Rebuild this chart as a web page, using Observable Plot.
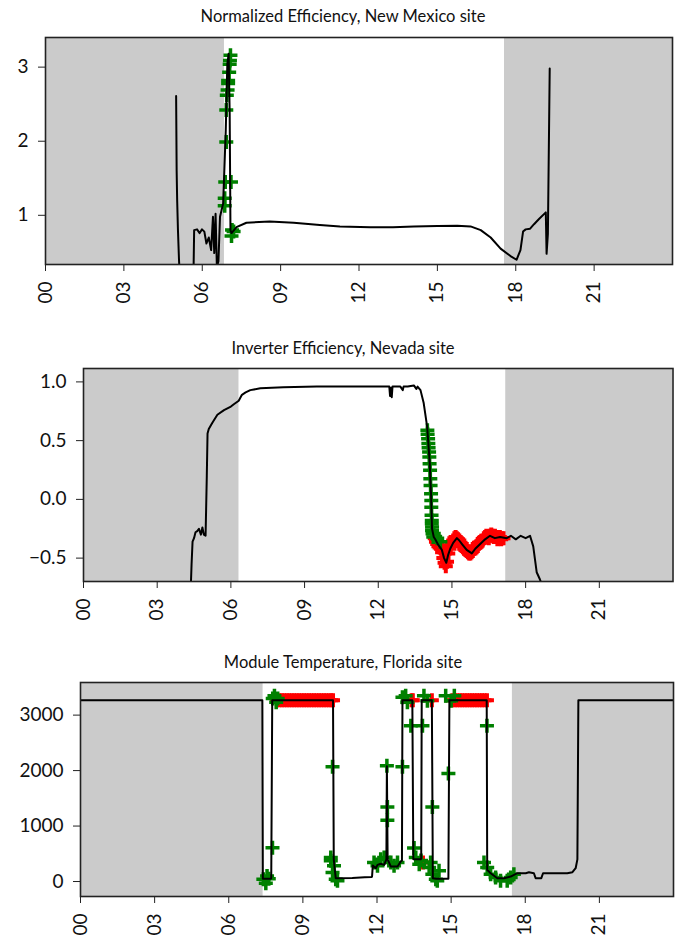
<!DOCTYPE html>
<html><head><meta charset="utf-8">
<script src="https://cdn.jsdelivr.net/npm/d3@7"></script>
<script src="https://cdn.jsdelivr.net/npm/@observablehq/plot@0.6"></script>
<style>
body{margin:0;background:#fff;}
#wrap{position:relative;width:683px;height:937px;overflow:hidden;background:#fff;font-family:Lato,sans-serif;}
.title{position:absolute;left:0;width:686px;text-align:center;font-size:16.5px;color:#111;line-height:18px;}
.panel{position:absolute;left:0;}
</style></head>
<body><div id="wrap"></div>
<script>
// ---- shared ----
const hourTicks = [0, 3, 6, 9, 12, 15, 18, 21];
const titles = ["Normalized Efficiency, New Mexico site", "Inverter Efficiency, Nevada site", "Module Temperature, Florida site"];

// ---- Panel 1: Normalized Efficiency, New Mexico ----
const nmNightStart = [0, 17.57];
const nmNightEnd = [6.85, 24];
const nmHours = [5.00, 5.02, 5.04, 5.07, 5.11, 5.15, 5.62, 5.66, 5.69, 5.80, 5.90, 5.99, 6.08, 6.16, 6.25, 6.34, 6.41, 6.46, 6.51, 6.56, 6.62, 6.68, 6.74, 6.80, 6.90, 6.96, 7.01, 7.05, 7.08, 7.12, 7.31, 7.69, 8.58, 9.5, 10.5, 11.27, 12.43, 13.3, 14.1, 15.0, 15.76, 16.27, 16.66, 17.04, 17.42, 17.80, 18.03, 18.18, 18.28, 18.38, 18.55, 18.70, 18.89, 19.15, 19.18, 19.23, 19.30];
const nmEff = [2.61, 1.60, 1.20, 0.80, 0.40, 0.10, 0.10, 0.10, 0.80, 0.81, 0.76, 0.81, 0.78, 0.62, 0.70, 0.53, 0.98, 0.49, 1.02, 0.30, 0.38, 0.98, 1.07, 1.16, 2.15, 3.04, 3.18, 2.37, 0.80, 0.76, 0.84, 0.90, 0.915, 0.90, 0.87, 0.85, 0.84, 0.84, 0.85, 0.855, 0.86, 0.85, 0.80, 0.70, 0.55, 0.45, 0.40, 0.53, 0.78, 0.81, 0.82, 0.88, 0.95, 1.04, 0.48, 0.75, 2.98];
const nmGreenHours = [7.08, 7.06, 7.05, 7.03, 6.99, 6.99, 6.97, 6.94, 6.92, 6.92, 6.88, 7.10, 6.86, 6.86, 7.14, 7.20, 7.12];
const nmGreenVals = [3.16, 3.09, 3.04, 2.93, 2.82, 2.78, 2.69, 2.62, 2.42, 1.99, 1.45, 1.45, 1.23, 1.13, 0.80, 0.78, 0.72];
const nmYTicks = [1, 2, 3];

// ---- Panel 2: Inverter Efficiency, Nevada ----
const nvNightStart = [0, 17.19];
const nvNightEnd = [6.33, 24];
const nvHours = [4.36, 4.40, 4.44, 4.50, 4.56, 4.63, 4.70, 4.78, 4.84, 4.90, 4.97, 5.02, 5.05, 5.10, 5.24, 5.45, 5.72, 6.00, 6.12, 6.32, 6.45, 6.60, 6.79, 7.20, 8.14, 9.5, 11.0, 12.2, 12.45, 12.48, 12.52, 12.55, 12.58, 12.9, 13.0, 13.03, 13.2, 13.45, 13.55, 13.60, 13.72, 13.85, 13.99, 14.09, 14.15, 14.19, 14.26, 14.32, 14.45, 14.59, 14.68, 14.77, 14.85, 14.93, 15.05, 15.2, 15.3, 15.41, 15.6, 15.81, 15.95, 16.15, 16.35, 16.55, 16.75, 16.96, 17.23, 17.4, 17.6, 17.8, 18.0, 18.18, 18.31, 18.45, 18.58, 18.70];
const nvEff = [-0.80, -0.55, -0.36, -0.33, -0.28, -0.27, -0.25, -0.30, -0.24, -0.30, -0.31, 0.20, 0.56, 0.60, 0.65, 0.72, 0.76, 0.79, 0.81, 0.84, 0.89, 0.91, 0.93, 0.945, 0.955, 0.96, 0.96, 0.96, 0.96, 0.88, 0.95, 0.87, 0.96, 0.96, 0.93, 0.96, 0.96, 0.97, 0.94, 0.96, 0.93, 0.82, 0.62, 0.33, 0.04, -0.25, -0.32, -0.34, -0.39, -0.43, -0.50, -0.54, -0.47, -0.42, -0.37, -0.33, -0.35, -0.38, -0.43, -0.46, -0.42, -0.38, -0.34, -0.31, -0.33, -0.32, -0.33, -0.31, -0.34, -0.31, -0.33, -0.31, -0.40, -0.62, -0.68, -0.75];
const nvGreenHours = [14.00, 14.01, 14.03, 14.04, 14.05, 14.07, 14.08, 14.09, 14.11, 14.12, 14.13, 14.15, 14.16, 14.16, 14.17, 14.18, 14.18, 14.19, 14.19, 14.21, 14.24, 14.26, 14.40, 14.53];
const nvGreenVals = [0.588, 0.554, 0.517, 0.475, 0.44, 0.403, 0.36, 0.304, 0.247, 0.176, 0.119, 0.048, -0.009, -0.066, -0.136, -0.179, -0.208, -0.236, -0.264, -0.293, -0.321, -0.29, -0.33, -0.36];
const nvRedHours = [14.30, 14.35, 14.40, 14.45, 14.50, 14.55, 14.60, 14.65, 14.70, 14.75, 14.80, 14.85, 14.90, 14.95, 15.00, 15.05, 15.10, 15.15, 15.20, 15.25, 15.30, 15.35, 15.40, 15.45, 15.50, 15.55, 15.60, 15.65, 15.70, 15.75, 15.80, 15.85, 15.90, 15.95, 16.00, 16.05, 16.10, 16.15, 16.20, 16.25, 16.30, 16.35, 16.40, 16.45, 16.50, 16.55, 16.60, 16.65, 16.70, 16.75, 16.80, 16.85, 16.90, 16.95, 17.00, 17.05, 17.10];
const nvRedVals = [-0.33, -0.36, -0.38, -0.40, -0.41, -0.42, -0.45, -0.50, -0.54, -0.57, -0.53, -0.46, -0.42, -0.39, -0.37, -0.35, -0.33, -0.32, -0.33, -0.34, -0.35, -0.37, -0.38, -0.40, -0.42, -0.43, -0.44, -0.45, -0.46, -0.46, -0.45, -0.44, -0.42, -0.41, -0.40, -0.38, -0.37, -0.37, -0.36, -0.35, -0.33, -0.32, -0.31, -0.32, -0.33, -0.31, -0.30, -0.31, -0.32, -0.31, -0.32, -0.34, -0.33, -0.32, -0.34, -0.33, -0.33];
const nvYTicks = [-0.5, 0, 0.5, 1.0];

// ---- Panel 3: Module Temperature, Florida ----
const flNightStart = [0, 17.48];
const flNightEnd = [7.39, 24];
const flHours = [0, 7.36, 7.38, 7.70, 7.72, 7.76, 10.22, 10.25, 10.33, 11.0, 11.5, 11.78, 11.80, 11.83, 11.95, 12.02, 12.15, 12.29, 12.38, 12.40, 12.43, 12.45, 12.56, 12.83, 12.96, 13.01, 13.03, 13.43, 13.47, 13.77, 13.79, 13.81, 14.22, 14.26, 14.40, 14.89, 14.93, 16.44, 16.46, 16.60, 16.87, 17.14, 17.41, 17.68, 18.02, 18.15, 18.35, 18.42, 18.65, 18.72, 19.70, 19.91, 20.04, 20.11, 20.15, 24];
const flTemp = [3270, 3270, 50, 50, 60, 3270, 3270, 400, 60, 65, 75, 80, 90, 290, 240, 300, 320, 300, 400, 2080, 400, 380, 270, 270, 360, 380, 3270, 3270, 400, 400, 420, 3270, 3270, 60, 50, 50, 3270, 3270, 210, 150, 60, 60, 90, 150, 150, 168, 150, 60, 60, 150, 150, 168, 240, 400, 3270, 3270];
const flGreenHours = [7.40, 7.50, 7.55, 7.62, 7.77, 7.78, 7.85, 7.92, 7.98, 10.20, 10.13, 10.26, 10.20, 10.33, 10.40, 10.13, 11.88, 12.02, 12.15, 12.29, 12.40, 12.42, 12.42, 12.56, 12.69, 12.83, 13.03, 13.03, 13.16, 13.23, 13.37, 13.50, 13.57, 13.71, 13.78, 13.84, 13.90, 14.04, 14.24, 14.11, 14.24, 14.38, 14.44, 14.51, 14.17, 14.78, 15.00, 15.13, 14.89, 16.45, 16.33, 16.46, 16.60, 16.80, 17.00, 17.27, 17.41, 17.54];
const flGreenVals = [40, -30, 100, 50, 610, 3300, 3350, 3230, 3300, 2070, 373, 283, 163, 43, 14, 433, 343, 283, 403, 433, 2085, 1345, 1104, 343, 283, 343, 2067, 3320, 3350, 3230, 2810, 603, 433, 313, 380, 2810, 3350, 3260, 1345, 253, 133, 43, 13, 193, 343, 3350, 3260, 3350, 1946, 2810, 343, 253, 133, 73, 13, 13, 73, 133];
const flRedHours = [7.95, 8.05, 8.15, 8.25, 8.35, 8.45, 8.55, 8.65, 8.75, 8.85, 8.95, 9.05, 9.15, 9.25, 9.35, 9.45, 9.55, 9.65, 9.75, 9.85, 9.95, 10.05, 10.15, 10.22, 13.40, 13.45, 13.86, 14.22, 15.05, 15.15, 15.25, 15.35, 15.45, 15.55, 15.65, 15.75, 15.85, 15.95, 16.05, 16.15, 16.25, 16.35, 16.45];
const flRedVals = [3270, 3270, 3270, 3270, 3270, 3270, 3270, 3270, 3270, 3270, 3270, 3270, 3270, 3270, 3270, 3270, 3270, 3270, 3270, 3270, 3270, 3270, 3270, 3270, 3270, 3270, 343, 3270, 3270, 3270, 3270, 3270, 3270, 3270, 3270, 3270, 3270, 3270, 3270, 3270, 3270, 3270, 3270];
const flYTicks = [0, 1000, 2000, 3000];

// ---- helpers ----
const zip = (xs, ys) => xs.map((x, i) => ({x, y: ys[i]}));
const bands = (s, e) => s.map((v, i) => ({x1: v, x2: e[i]}));
const plusSymbol = {
  draw(ctx, size) {
    const r = Math.sqrt(size / Math.PI);
    ctx.moveTo(-r, 0); ctx.lineTo(r, 0);
    ctx.moveTo(0, -r); ctx.lineTo(0, r);
  }
};
const hourFmt = d => String(d).padStart(2, "0");

function panel(cfg) {
  const marks = [
    Plot.rect(bands(cfg.nightS, cfg.nightE), {x1: "x1", x2: "x2", fill: "#cbcbcb"}),
  ];
  if (cfg.red) marks.push(Plot.dot(cfg.red, {x: "x", y: "y", symbol: plusSymbol, r: 7, stroke: "#ff0000", strokeWidth: 4, fill: "none", clip: true}));
  if (cfg.green) marks.push(Plot.dot(cfg.green, {x: "x", y: "y", symbol: plusSymbol, r: 7, stroke: "#008000", strokeWidth: 3.5, fill: "none", clip: true}));
  marks.push(Plot.line(cfg.line, {x: "x", y: "y", stroke: "#000", strokeWidth: 2, clip: true}));
  marks.push(Plot.axisX({ticks: hourTicks, tickFormat: hourFmt, tickRotate: -90, tickSize: 7, tickPadding: 10, label: null, stroke: "#222", fill: "#111"}));
  marks.push(Plot.axisY({ticks: cfg.yTicks, tickFormat: cfg.yFmt, tickSize: 7, tickPadding: 10, label: null, stroke: "#222", fill: "#111"}));
  marks.push(Plot.frame({stroke: "#222", strokeWidth: 1.6}));
  return Plot.plot({
    width: 683, height: cfg.height,
    marginLeft: cfg.ml, marginRight: cfg.mr, marginTop: cfg.mt, marginBottom: cfg.mb,
    x: {domain: [0, 24]},
    y: {domain: cfg.yDomain},
    style: {fontFamily: "Lato, sans-serif", fontSize: "19px", background: "transparent", overflow: "visible"},
    marks
  });
}

const wrap = document.getElementById("wrap");
function place(el, top) { el.classList.add("panel"); el.style.top = top + "px"; wrap.appendChild(el); }
function addTitle(text, top) { const d = document.createElement("div"); d.className = "title"; d.style.top = top + "px"; d.textContent = text; wrap.appendChild(d); }

addTitle(titles[0], 7);
place(panel({
  line: zip(nmHours, nmEff), green: zip(nmGreenHours, nmGreenVals),
  nightS: nmNightStart, nightE: nmNightEnd,
  yDomain: [0.336, 3.40], yTicks: nmYTicks, yFmt: d3.format("d"),
  height: 281, ml: 45, mr: 11, mt: 9, mb: 45
}), 28);

addTitle(titles[1], 339);
place(panel({
  line: zip(nvHours, nvEff), green: zip(nvGreenHours, nvGreenVals), red: zip(nvRedHours, nvRedVals),
  nightS: nvNightStart, nightE: nvNightEnd,
  yDomain: [-0.699, 1.114], yTicks: nvYTicks, yFmt: d3.format(".1f"),
  height: 266, ml: 83, mr: 10.5, mt: 8, mb: 45
}), 360);

addTitle(titles[2], 653);
place(panel({
  line: zip(flHours, flTemp), green: zip(flGreenHours, flGreenVals), red: zip(flRedHours, flRedVals),
  nightS: flNightStart, nightE: flNightEnd,
  yDomain: [-270, 3588], yTicks: flYTicks, yFmt: d3.format("d"),
  height: 265, ml: 80, mr: 10, mt: 10, mb: 41
}), 672);
</script>
</body></html>
